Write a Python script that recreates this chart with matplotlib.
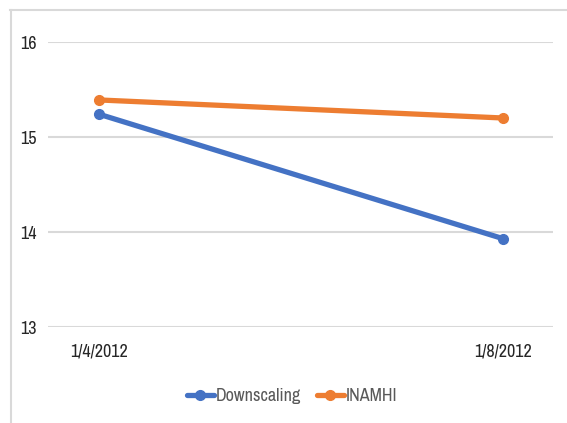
import matplotlib
matplotlib.use("Agg")
import matplotlib.pyplot as plt
from matplotlib.lines import Line2D

dates = ["1/4/2012", "1/8/2012"]
downscaling = [15.24, 13.93]
inamhi = [15.39, 15.20]
y_ticks = [13, 14, 15, 16]

plt.rcParams["font.family"] = ["Archivo Narrow", "Liberation Sans", "DejaVu Sans"]

W, H = 567, 423
fig = plt.figure(figsize=(W / 100, H / 100), dpi=100)
fig.patch.set_facecolor("white")

# Outer chart border (top and left edges visible)
fig.add_artist(Line2D([10.5 / W, 10.5 / W], [0, 1 - 10 / H], transform=fig.transFigure,
                      color="#D9D9D9", lw=1.5))
fig.add_artist(Line2D([10 / W, 1], [1 - 10 / H, 1 - 10 / H], transform=fig.transFigure,
                      color="#D9D9D9", lw=1.5))

left, right = 48 / W, 553 / W
bottom, top = 1 - 327 / H, 1 - 42 / H
ax = fig.add_axes([left, bottom, right - left, top - bottom])

x = list(range(len(dates)))
blue = "#4472C4"
orange = "#ED7D31"
ax.plot(x, downscaling, color=blue, lw=3.8, marker="o", ms=7, solid_capstyle="round",
        label="Downscaling", zorder=3)
ax.plot(x, inamhi, color=orange, lw=3.8, marker="o", ms=7, solid_capstyle="round",
        label="INAMHI", zorder=3)

ax.set_ylim(13, 16)
ax.set_yticks(y_ticks)
ax.set_yticklabels([str(t) for t in y_ticks])
ax.set_xlim(-51 / 404, 1 + 50 / 404)
ax.set_xticks(x)
ax.set_xticklabels(dates)

ax.grid(axis="y", color="#D9D9D9", lw=1.5)
ax.set_axisbelow(True)
for s in ax.spines.values():
    s.set_visible(False)
ax.tick_params(axis="both", length=0, labelsize=13, colors="#262626")
ax.tick_params(axis="y", pad=8)
ax.tick_params(axis="x", pad=12)

leg = fig.legend(loc="center", bbox_to_anchor=(292 / W, 1 - 396 / H), ncol=2, frameon=False,
                 fontsize=13, handlelength=1.5, handletextpad=0.1, columnspacing=0.9)
for t in leg.get_texts():
    t.set_color("#595959")

fig.savefig("out.png", dpi=100, facecolor="white")
